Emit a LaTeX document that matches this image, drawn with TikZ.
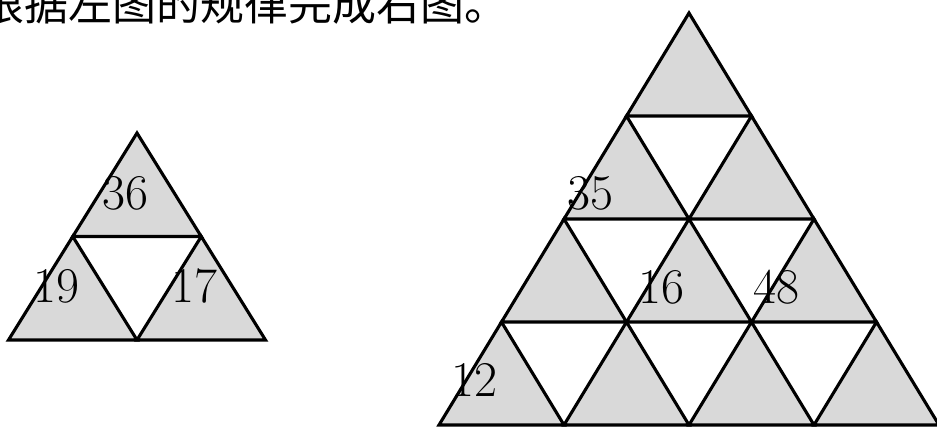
\documentclass[tikz,border=0pt]{standalone}
\usepackage{fontspec}
\newfontfamily\cjkfont{Noto Sans CJK SC}
\definecolor{cellgray}{RGB}{217,217,217}
\tikzset{
  cell/.style={fill=cellgray, draw=black, line width=3.1pt},
  num/.style={inner sep=0pt, font=\fontsize{50}{60}\selectfont}
}

\begin{document}
\begin{tikzpicture}[x=1pt,y=-1pt]
	\useasboundingbox (0,0) rectangle (937,428);
	\clip (0,0) rectangle (937,428);

	% Title
	\node[anchor=base west, inner sep=0pt, font=\cjkfont\fontsize{44}{50}\selectfont] (title) at (-20,21) {根据左图的规律完成右图。};

	% Left triangle (2 rows)
	\foreach \i in {1,2} {
		\foreach \j in {1,...,\i} {
			\pgfmathsetmacro\tx{137+(\j-1-(\i-1)/2)*128.5}
			\pgfmathsetmacro\ty{133+(\i-1)*103.5}
			\draw[cell] (\tx,\ty) -- ++(-64.25,103.5) -- ++(128.5,0) -- cycle;
		}
	}

	% Right triangle (4 rows)
	\foreach \i in {1,...,4} {
		\foreach \j in {1,...,\i} {
			\pgfmathsetmacro\tx{689+(\j-1-(\i-1)/2)*125}
			\pgfmathsetmacro\ty{13+(\i-1)*103}
			\draw[cell] (\tx,\ty) -- ++(-62.5,103) -- ++(125,0) -- cycle;
		}
	}

	% Numbers, left
	\node[num] (top) at (125,193) {36};
	\node[num] (left) at (56,286) {19};
	\node[num] (right) at (194,286) {17};

	% Numbers, right
	\node[num] (n35) at (590,193) {35};
	\node[num] (n16) at (661,287) {16};
	\node[num] (n48) at (776,287) {48};
	\node[num] (n12) at (474,380) {12};
\end{tikzpicture}
\end{document}
